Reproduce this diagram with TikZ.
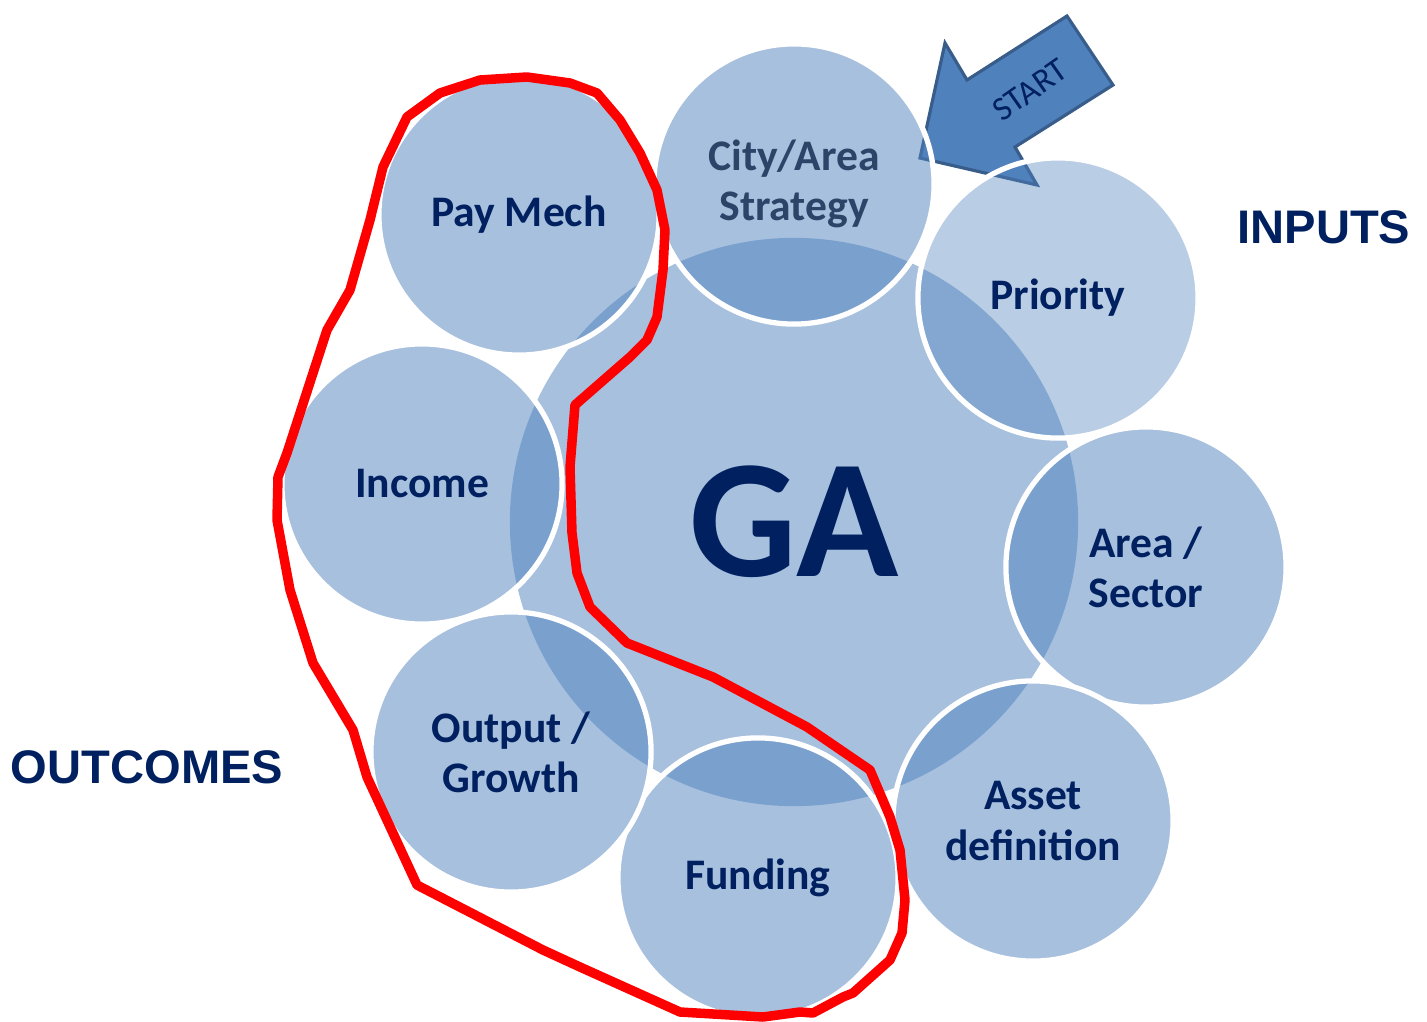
\documentclass[tikz,border=0pt]{standalone}
\usepackage{fontspec}
\setmainfont{Carlito}
\newfontfamily\headfont{Liberation Sans}
\definecolor{accent}{HTML}{4F81BD}
\definecolor{accentline}{HTML}{385D8A}
\definecolor{navy}{HTML}{002060}
\definecolor{slate}{HTML}{2B4468}

\begin{document}
\begin{tikzpicture}[x=0.01cm,y=-0.01cm,
  bubble/.style={circle,minimum size=2.8cm,inner sep=0pt,fill=accent,fill opacity=0.5,text opacity=1,
    draw=white,line width=1.5pt,text=navy,align=center,font=\bfseries\fontsize{12.4}{14.3}\selectfont},
  heading/.style={text=navy,font=\headfont\bfseries\fontsize{13.4}{16}\selectfont}]
\useasboundingbox (0,0) rectangle (1427,1021);
% start arrow, under the ring
\draw[fill=accent,draw=accentline,line width=0.9pt] (920,158) -- (945,43) -- (967,80) -- (1067,16)
  -- (1113,85) -- (1015,147) -- (1037,185) -- cycle;
\node[rotate=35,text=navy,font=\fontsize{9.6}{11}\selectfont] (start) at (1030,90) {START};
% hub and ring
\node[circle,minimum size=5.68cm,inner sep=0pt,fill=accent,fill opacity=0.5,text opacity=1,text=navy,
  font=\bfseries\fontsize{48}{48}\selectfont] (ga) at (794,522) {GA};
\node[bubble,text=slate] (city) at (794,184) {City/Area\\Strategy};
\node[bubble,fill opacity=0.4] (priority) at (1058,298) {Priority};
\node[bubble] (area) at (1146,567) {Area /\\Sector};
\node[bubble] (asset) at (1033,821) {Asset\\definition};
\node[bubble] (funding) at (758,878) {Funding};
\node[bubble] (output) at (511,752) {Output /\\Growth};
\node[bubble] (income) at (422,484) {Income};
\node[bubble] (paymech) at (519,215) {Pay Mech};
\node[heading] (inputs) at (1324,227) {INPUTS};
\node[heading] (outcomes) at (147,767) {OUTCOMES};
% hand drawn loop round the outcomes
\draw[red,line width=2.7pt,line join=round,line cap=round]
  (327,330) -- (350,290) -- (370,220) -- (383,167) -- (407,117) -- (440,93) -- (480,80) -- (527,77)
  -- (570,83) -- (597,93) -- (620,120) -- (640,153) -- (657,190) -- (665,230) -- (663,270) -- (657,317)
  -- (647,340) -- (630,357) -- (575,405) -- (570,467) -- (572,533) -- (577,573) -- (590,607) -- (627,643)
  -- (713,677) -- (807,727) -- (870,770) -- (890,817) -- (900,850) -- (905,900) -- (902,933) -- (890,960)
  -- (853,993) -- (843,997) -- (813,1013) -- (800,1012) -- (763,1017) -- (680,1012) -- (580,967)
  -- (543,950) -- (417,885) -- (367,777) -- (353,730) -- (313,663) -- (290,590) -- (277,520)
  -- (278,477) -- (287,453) -- cycle;
\end{tikzpicture}
\end{document}
